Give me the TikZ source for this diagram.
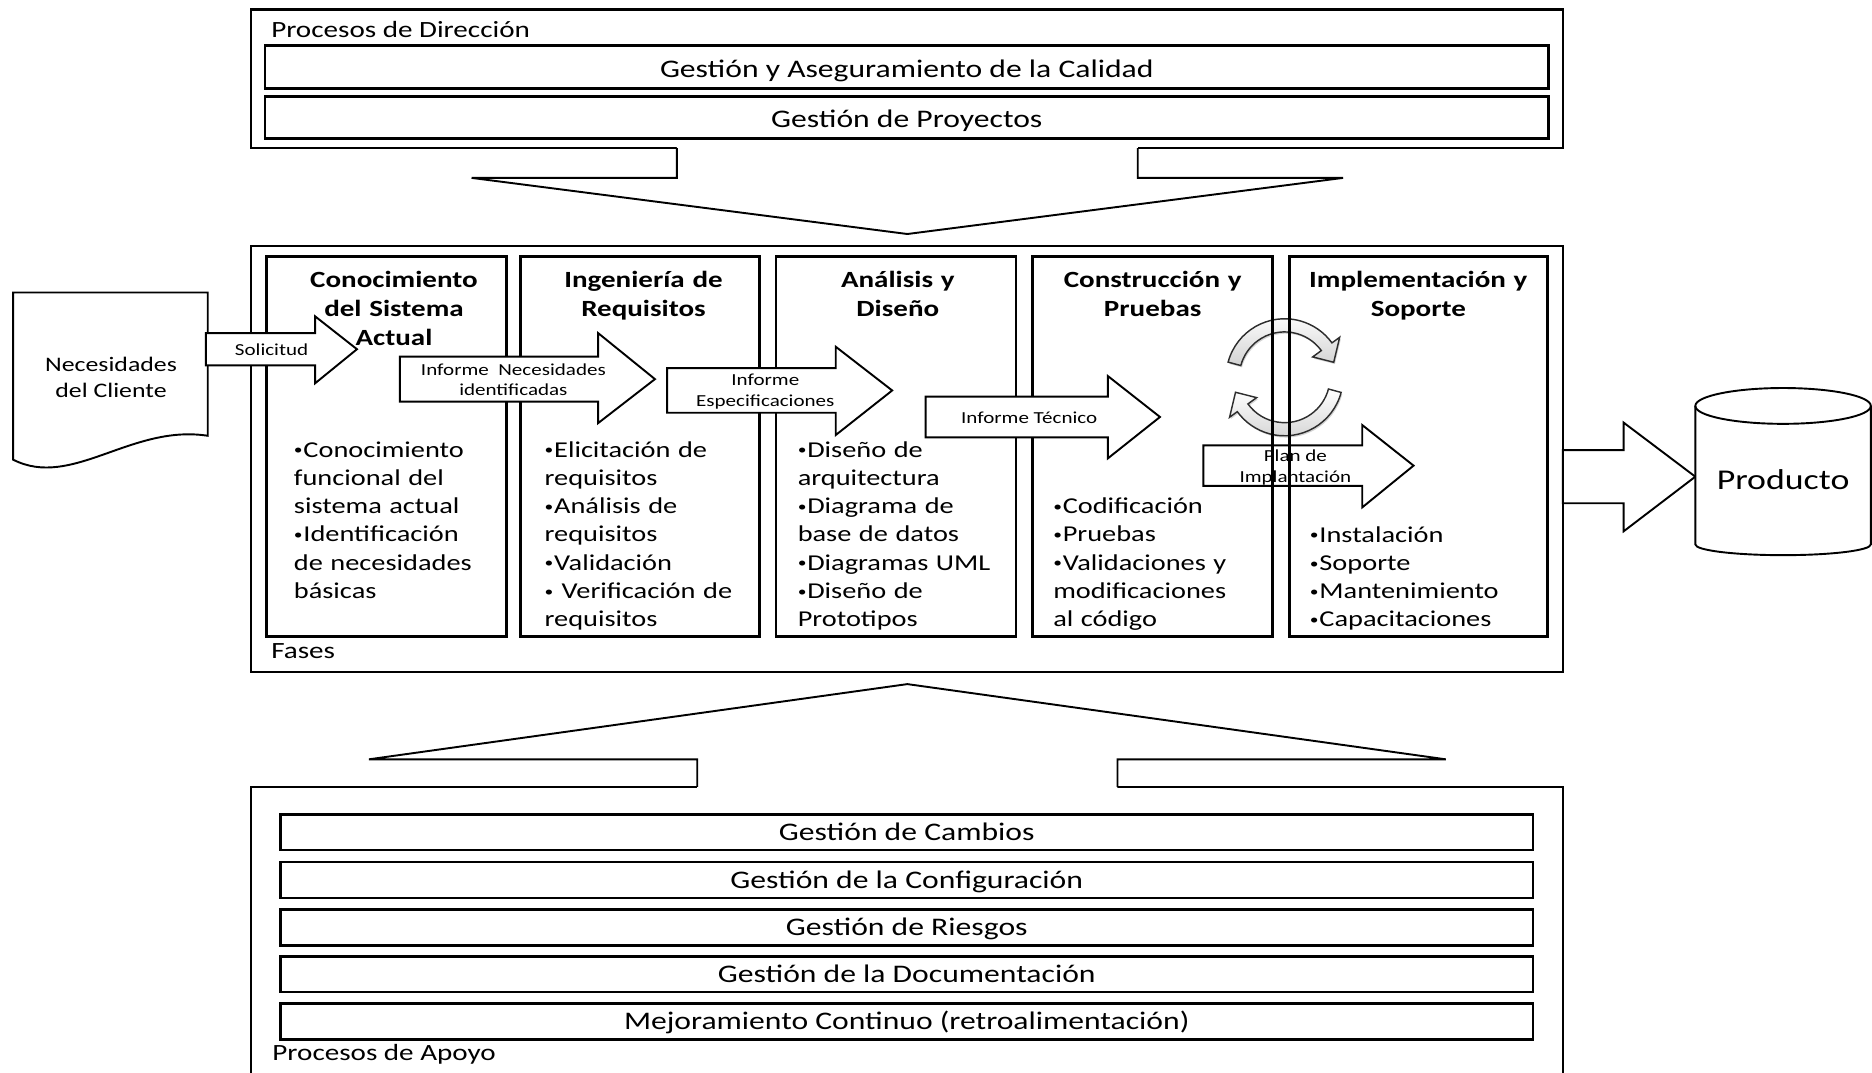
\documentclass[tikz,border=0pt]{standalone}
\usepackage{fontspec}
\usepackage{graphicx}
\setmainfont{Carlito}[FakeStretch=1.25]
\usetikzlibrary{calc,shadows}

% block arrow: [style] shaft-left, head-base, tip, shaft-top, shaft-bottom, head-top, head-bottom
\newcommand\blockarrow[8][]{%
  \draw[arrowbox,#1] (#2,#5) -- (#3,#5) -- (#3,#7) -- (#4,{(#5+#6)/2}) -- (#3,#8) -- (#3,#6) -- (#2,#6) -- cycle;}
% small list bullet
\newcommand\bul{\makebox[0.42em][l]{\raisebox{0.1em}{\scalebox{0.62}{•}}}}

\begin{document}
\begin{tikzpicture}[x=1pt,y=-1pt,
  box/.style={draw, line width=1.8pt, inner sep=0pt, rectangle},
  col/.style={draw, line width=2.4pt, inner sep=0pt, minimum height=318pt},
  bar/.style={draw, line width=2.2pt, inner sep=0pt, minimum width=1075pt,
    text height=21pt, text depth=4pt, font=\fontsize{21.2}{25}\selectfont},
  lowbar/.style={bar, minimum width=1049pt, minimum height=30pt, text height=17.6pt},
  grp/.style={inner sep=0pt, anchor=base west, font=\fontsize{19.5}{23}\selectfont},
  ttl/.style={inner sep=0pt, anchor=base, align=center, text width=210pt, font=\fontsize{19.45}{24}\selectfont\bfseries},
  lst/.style={inner sep=0pt, anchor=base west, align=left, text width=215pt, font=\fontsize{19}{23.65}\selectfont},
  arrowbox/.style={draw, fill=white, line width=1.6pt, line join=miter},
  albl/.style={inner sep=0pt, align=center, font=\fontsize{14.1}{17}\selectfont},
  cyc/.style={draw=gray!35!black, line width=1.2pt, top color=white, bottom color=gray!35,
    drop shadow={shadow xshift=1pt, shadow yshift=-1.5pt, opacity=0.35}},
]
\useasboundingbox (0,0) rectangle (1568,898);
\clip (0,0) rectangle (1568,898);

% ---- Procesos de Dirección ----
\node[box, minimum width=1099pt, minimum height=116pt] (dir) at (759.5,66) {};
\node[grp] (dirlbl) at (227,31.5) {Procesos de Dirección};
\node[bar, minimum height=36pt] (cal) at (759.5,56) {Gestión y Aseguramiento de la Calidad};
\node[bar, minimum height=35pt] (proy) at (759.5,98.5) {Gestión de Proyectos};

% wide arrow down into the phases
\fill[white] (567,122.6) -- (567,149) -- (395,149) -- (760,196) -- (1125,149) -- (953,149) -- (953,122.6) -- cycle;
\draw[line width=1.6pt, line join=miter] (567,124) -- (567,149) -- (395,149) -- (760,196) -- (1125,149) -- (953,149) -- (953,124);

% ---- Fases ----
\node[box, minimum width=1099pt, minimum height=357pt] (fases) at (759.5,384.5) {};
\node[grp] (faseslbl) at (227,551.5) {Fases};

% arrow and cycle behind the column frames
\blockarrow{1008}{1141}{1184}{373}{407}{356}{425}
\node[albl] (plan) at (1085,391.5) {Plan de\\Implantación};

\coordinate (cyc) at (1076,316);
\path[cyc] ($(cyc)+(195:49)$) arc[start angle=195, end angle=324, radius=49]
  -- ($(cyc)+(324:57)$) -- ($(cyc)+(343:43)$) -- ($(cyc)+(324:29)$) -- ($(cyc)+(324:38)$)
  arc[start angle=324, end angle=195, radius=38] -- cycle;
\path[cyc] ($(cyc)+(15:49)$) arc[start angle=15, end angle=144, radius=49]
  -- ($(cyc)+(144:57)$) -- ($(cyc)+(163:43)$) -- ($(cyc)+(144:29)$) -- ($(cyc)+(144:38)$)
  arc[start angle=144, end angle=15, radius=38] -- cycle;

% column frames
\node[col, minimum width=201pt] (c1) at (323.5,374) {};
\node[col, minimum width=200pt] (c2) at (536,374) {};
\node[col, minimum width=201pt] (c3) at (750.5,374) {};
\node[col, minimum width=201pt] (c4) at (965.5,374) {};
\node[col, minimum width=216pt] (c5) at (1188,374) {};

\node[ttl] (t1) at (330,241) {Conocimiento\\del Sistema\\Actual};
\node[ttl] (t2) at (539,241) {Ingeniería de\\Requisitos};
\node[ttl] (t3) at (752,241) {Análisis y\\Diseño};
\node[ttl] (t4) at (965.5,241) {Construcción y\\Pruebas};
\node[ttl] (t5) at (1188,241) {Implementación y\\Soporte};

\node[lst] (l1) at (246,383) {\bul Conocimiento\\funcional del\\sistema actual\\\bul Identificación\\de necesidades\\básicas};
\node[lst] (l2) at (456,383) {\bul Elicitación de\\requisitos\\\bul Análisis de\\requisitos\\\bul Validación\\\bul\ Verificación de\\requisitos};
\node[lst] (l3) at (668,383) {\bul Diseño de\\arquitectura\\\bul Diagrama de\\base de datos\\\bul Diagramas UML\\\bul Diseño de\\Prototipos};
\node[lst] (l4) at (882,430.3) {\bul Codificación\\\bul Pruebas\\\bul Validaciones y\\modificaciones\\al código};
\node[lst] (l5) at (1097,454) {\bul Instalación\\\bul Soporte\\\bul Mantenimiento\\\bul Capacitaciones};

% ---- Necesidades del Cliente ----
\draw[line width=1.6pt, fill=white] (11,245) -- (174,245) -- (174,365)
  .. controls (110,355) and (60,410) .. (11,385) -- cycle;
\node[inner sep=0pt, align=center, font=\fontsize{17.3}{22}\selectfont] (nec) at (93,316) {Necesidades\\del Cliente};

% hand-over arrows between phases
\blockarrow{172.5}{264}{299}{279}{306}{265}{321}
\node[albl] (sol) at (227.5,293) {Solicitud};
\blockarrow{335}{501}{548.6}{298.7}{336.4}{279}{354.4}
\node[albl] (inf1) at (430,318) {Informe~~Necesidades\\identificadas};
\blockarrow{558.8}{700}{747.3}{308.4}{345.7}{290.4}{364.4}
\node[albl] (inf2) at (641,328) {Informe\\Especificaciones};
\blockarrow{775.3}{928}{971.6}{332.2}{366.3}{315}{383.9}
\node[albl] (inf3) at (862,350) {Informe Técnico};

% ---- Producto ----
\blockarrow{1309}{1360}{1420}{377}{421.5}{354}{445}
\draw[line width=1.6pt, fill=white] (1420,340) -- (1420,456)
  arc[start angle=180, end angle=0, x radius=73.5, y radius=9] -- (1567,340);
\draw[line width=1.6pt] (1493.5,340) ellipse[x radius=73.5, y radius=15];
\node[inner sep=0pt, font=\fontsize{24}{28}\selectfont] (prod) at (1493.5,402) {Producto};

% ---- Procesos de Apoyo ----
\node[box, minimum width=1099pt, minimum height=260pt] (apoyo) at (759.5,789) {};
\fill[white] (584,660.4) -- (584,636) -- (309,636) -- (760,573) -- (1211,636) -- (936,636) -- (936,660.4) -- cycle;
\draw[line width=1.6pt, line join=miter] (584,659) -- (584,636) -- (309,636) -- (760,573) -- (1211,636) -- (936,636) -- (936,659);

\node[lowbar] (camb) at (759.5,697) {Gestión de Cambios};
\node[lowbar] (conf) at (759.5,737) {Gestión de la Configuración};
\node[lowbar] (ries) at (759.5,777) {Gestión de Riesgos};
\node[lowbar] (docu) at (759.5,816) {Gestión de la Documentación};
\node[lowbar] (mejo) at (759.5,855.5) {Mejoramiento Continuo (retroalimentación)};
\node[grp] (apoyolbl) at (228,888) {Procesos de Apoyo};
\end{tikzpicture}
\end{document}
